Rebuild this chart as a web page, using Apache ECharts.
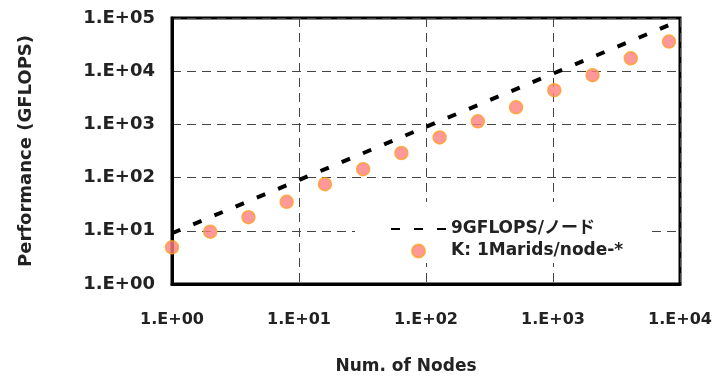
<!DOCTYPE html>
<html>
<head>
<meta charset="utf-8">
<script src="https://cdn.jsdelivr.net/npm/echarts@6/dist/echarts.min.js"></script>
<style>
  html, body { margin: 0; padding: 0; background: #fff; }
  #chart { width: 717px; height: 376px; }
</style>
</head>
<body>
<div id="chart"></div>
<script>
// ノード数と性能
const nodes = [1, 2, 4, 8, 16, 32, 64, 128, 256, 512, 1024, 2048, 4096, 8192];
const measured = [4.9, 9.6, 18, 35, 75, 144, 290, 570, 1140, 2100, 4400, 8400, 17500, 36000];
const peakNodes = [1, 8192];
const peakPerNode = 9; // GFLOPS/ノード
const lineName = '9GFLOPS/ノード';
const pointName = 'K: 1Marids/node-*';

const font = '"DejaVu Sans", "Noto Sans CJK JP", sans-serif';
const expLabel = v => '1.E+' + String(Math.round(Math.log10(v))).padStart(2, '0');

const chart = echarts.init(document.getElementById('chart'));
chart.setOption({
  animation: false,
  grid: {
    left: 172, right: 37, top: 18, bottom: 92,
    outerBoundsMode: 'none',
    show: true, borderColor: '#000', borderWidth: 3, backgroundColor: '#fff'
  },
  legend: {
    orient: 'vertical',
    left: 355, top: 202,
    itemWidth: 55, itemHeight: 13, itemGap: 2,
    backgroundColor: '#fff',
    padding: [17, 25, 2, 35],
    textStyle: { fontFamily: font, fontWeight: 'bold', fontSize: 17, lineHeight: 20, color: '#222' },
    data: [
      { name: lineName, itemStyle: { opacity: 0 } },
      { name: pointName, icon: 'circle' }
    ]
  },
  xAxis: {
    type: 'log', logBase: 10, min: 1, max: 10000,
    name: 'Num. of Nodes', nameLocation: 'middle', nameGap: 74,
    nameTextStyle: { fontFamily: font, fontWeight: 'bold', fontSize: 17, color: '#222', padding: [0, 40, 0, 0] },
    axisLine: { lineStyle: { color: '#000', width: 3 } },
    axisTick: { show: false },
    minorTick: { show: false },
    axisLabel: { formatter: expLabel, margin: 28, fontFamily: font, fontWeight: 'bold', fontSize: 16, color: '#222' },
    splitLine: { show: true, lineStyle: { color: '#444', width: 1, type: [9, 6] } }
  },
  yAxis: {
    type: 'log', logBase: 10, min: 1, max: 100000,
    name: 'Performance (GFLOPS)', nameLocation: 'middle', nameGap: 137,
    nameTextStyle: { fontFamily: font, fontWeight: 'bold', fontSize: 18, color: '#222' },
    axisLine: { lineStyle: { color: '#000', width: 3 } },
    axisTick: { show: false },
    axisLabel: { formatter: expLabel, margin: 17, fontFamily: font, fontWeight: 'bold', fontSize: 18, color: '#222' },
    splitLine: { show: true, lineStyle: { color: '#444', width: 1, type: [9, 6] } }
  },
  series: [
    {
      name: lineName,
      type: 'line',
      symbol: 'none',
      data: peakNodes.map(n => [n, n * peakPerNode]),
      lineStyle: { color: '#000', width: 4, type: [9, 14] },
      itemStyle: { color: '#000' },
      z: 3
    },
    {
      name: pointName,
      type: 'scatter',
      symbol: 'circle',
      symbolSize: 13,
      data: nodes.map((n, i) => [n, measured[i]]),
      itemStyle: { color: '#FF8080', borderColor: '#FFA020', borderWidth: 1.5 },
      z: 4
    }
  ]
});
</script>
</body>
</html>
